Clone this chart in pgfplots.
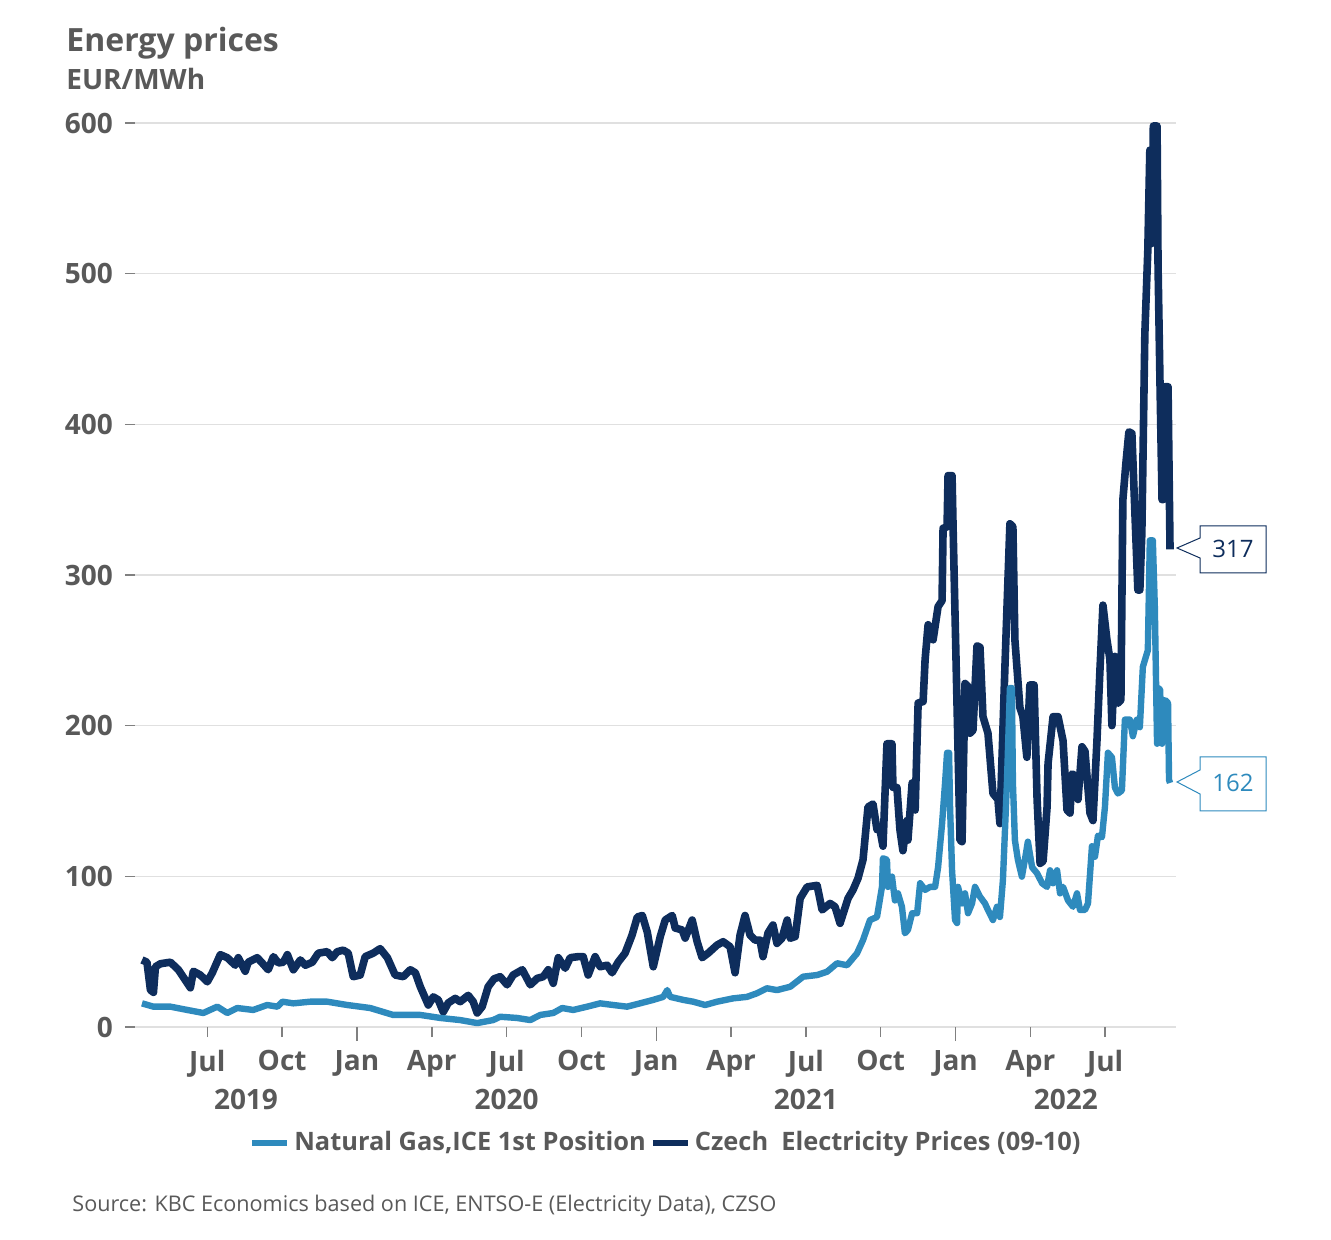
\documentclass[border=0pt]{standalone}
\usepackage{fontspec}
\setmainfont{Open Sans}
\usepackage{pgfplots}
\pgfplotsset{compat=1.18}
\definecolor{elec}{RGB}{14,45,92}
\definecolor{gas}{RGB}{46,138,189}
\definecolor{txtgray}{RGB}{89,89,89}
\definecolor{gridgray}{RGB}{224,224,224}
\definecolor{tickgray}{RGB}{128,128,128}
\begin{document}
\begin{tikzpicture}
\path[use as bounding box] (-67.5pt,-106.5pt) rectangle (598pt,513.5pt);
\begin{axis}[
  at={(0,0)}, anchor=south west,
  scale only axis, width=520.5pt, height=452pt,
  xmin=3.1, xmax=44.84, ymin=0, ymax=600,
  clip=false,
  axis lines=left, axis line style={draw=none},
  tick align=outside,
  ytick={0,100,200,300,400,500,600},
  ymajorgrids, grid style={color=gridgray, line width=0.8pt},
  xtick={6,9,12,15,18,21,24,27,30,33,36,39,42},
  xticklabels={Jul,Oct,Jan,Apr,Jul,Oct,Jan,Apr,Jul,Oct,Jan,Apr,Jul},
  minor xtick={12,24,36},
  major tick length=5pt, minor tick length=7pt,
  tick style={color=tickgray, line width=0.75pt},
  extra x ticks={7.55,18,30,40.42},
  extra x tick labels={2019,2020,2021,2022},
  extra x tick style={major tick length=0pt, xticklabel style={yshift=-24.5pt}},
  tick label style={font=\bfseries\fontsize{14}{16}\selectfont, text=txtgray},
  xticklabel style={yshift=-3pt},
  yticklabel style={xshift=-2.5pt},
  /pgf/number format/assume math mode=true,
  legend style={at={(0.511,-0.128)}, anchor=center, draw=none, fill=none,
    legend columns=2, font=\bfseries\fontsize{12.7}{15}\selectfont, text=txtgray,
    /tikz/every even column/.append style={column sep=0pt}},
  legend image code/.code={\draw[#1, line width=3pt] (0pt,0pt) -- (17.5pt,0pt);},
  reverse legend,
]
\addplot[color=elec, line width=3.8pt, line join=round] coordinates {
(3.38,44.5)(3.58,43)(3.72,24.5)(3.84,23)(3.92,40)(4.12,42)(4.52,43)(4.84,38)(5.12,31)(5.32,26)
(5.44,37)(5.72,34.5)(6.00,30)(6.20,36)(6.52,48)(6.80,46)(7.12,41)(7.24,46)(7.52,37)(7.64,43)
(8.00,46)(8.20,42.5)(8.44,38)(8.65,46.7)(8.85,42.5)(9.05,43)(9.21,48)(9.45,38)(9.73,44.5)(9.93,41)
(10.21,43)(10.45,49)(10.81,50)(11.01,46)(11.21,50)(11.45,51)(11.65,49)(11.85,33.4)(12.13,34.5)(12.33,46.7)
(12.65,49)(12.93,52)(13.22,46)(13.53,34.5)(13.86,33.4)(14.14,38)(14.34,36)(14.54,26.7)(14.86,14.6)(15.06,20)
(15.26,18)(15.46,10)(15.66,16)(15.94,19)(16.14,16.8)(16.46,21)(16.66,16.8)(16.82,9.3)(17.02,13.5)(17.26,26.7)
(17.50,32)(17.74,33.4)(18.02,28)(18.26,34.5)(18.63,38)(18.95,28)(19.23,32.3)(19.47,33.4)(19.67,38)(19.87,29)
(20.07,46)(20.35,39)(20.55,46)(20.87,46.7)(21.07,46.7)(21.27,34.5)(21.55,46.7)(21.75,40)(22.03,41)(22.23,36)
(22.47,43)(22.75,49)(23.03,61)(23.24,73)(23.44,74)(23.64,63)(23.88,40)(24.16,60)(24.36,71)(24.64,74)
(24.76,65.7)(25.04,64.4)(25.16,59)(25.44,71)(25.64,56.6)(25.84,46)(26.08,49)(26.44,54.4)(26.68,56.6)(26.96,53.3)
(27.16,36)(27.36,61)(27.56,74)(27.76,61)(27.96,57.7)(28.16,57.7)(28.28,46.7)(28.48,62.4)(28.68,67.7)(28.84,55.5)
(29.04,58.9)(29.25,71)(29.37,58.9)(29.57,60)(29.77,85.4)(30.05,93)(30.45,94)(30.65,77.7)(30.97,82)(31.17,79.8)
(31.37,68.8)(31.69,85.4)(31.89,91)(32.09,98.7)(32.29,111)(32.49,146)(32.69,148)(32.85,131)(32.97,131)(33.09,120)
(33.25,188)(33.45,188)(33.49,159)(33.65,159)(33.77,131)(33.89,117)(34.05,137)(34.09,124)(34.26,162)(34.38,144)
(34.50,215)(34.70,216)(34.78,244)(34.90,267)(35.10,257)(35.30,279)(35.46,283)(35.50,331)(35.66,332)(35.70,366)
(35.86,366)(35.90,333)(36.18,124)(36.26,123)(36.38,228)(36.50,226)(36.58,195)(36.70,197)(36.86,253)(36.98,252)
(37.10,206)(37.30,195)(37.50,155)(37.70,151)(37.78,135)(37.98,239)(38.18,334)(38.30,332)(38.38,257)(38.58,212)
(38.70,206)(38.86,179)(38.98,227)(39.15,227)(39.27,151)(39.39,108.6)(39.51,110)(39.67,146)(39.71,175)(39.91,206)
(40.11,206)(40.31,190)(40.47,144)(40.59,142)(40.67,168)(40.87,166)(40.91,151)(41.07,186)(41.19,183)(41.39,142)
(41.51,137)(41.67,190)(41.79,237)(41.91,280)(42.07,257)(42.19,244)(42.27,200)(42.39,246)(42.51,215)(42.63,217)
(42.71,350)(42.83,374)(42.95,395)(43.07,394)(43.31,290)(43.39,290)(43.47,328)(43.59,460)(43.71,516)(43.79,582)
(43.87,520)(43.93,598)(44.08,598)(44.12,505)(44.20,425)(44.28,350)(44.32,350)(44.40,425)(44.52,425)(44.60,317)
};
\addlegendentry{Czech\ \ Electricity Prices (09-10)}
\addplot[color=gas, line width=3.2pt, line join=round] coordinates {
(3.38,15.7)(3.84,13.5)(4.52,13.5)(5.20,11.3)(5.84,9.3)(6.40,13.5)(6.80,9.3)(7.20,12.6)(7.84,11.3)(8.40,14.6)
(8.81,13.5)(9.01,16.8)(9.45,15.7)(10.13,16.8)(10.81,16.8)(11.61,14.6)(12.53,12.6)(13.45,8)(14.54,8)(15.34,6)
(16.14,4.6)(16.82,2.6)(17.46,4.6)(17.74,6.8)(18.42,6)(18.95,4.6)(19.35,8)(19.87,9.3)(20.23,12.6)(20.67,11.3)
(21.23,13.5)(21.75,15.7)(22.27,14.6)(22.83,13.5)(23.35,15.7)(23.88,18)(24.28,20)(24.44,24.5)(24.56,20)(25.08,18)
(25.48,16.8)(25.96,14.6)(26.44,16.8)(27.08,19)(27.64,20)(28.04,22.4)(28.44,25.7)(28.84,24.5)(29.37,26.7)(29.89,33.4)
(30.45,34.5)(30.85,36.7)(31.25,42.3)(31.65,41)(32.05,48.9)(32.29,57.7)(32.57,71)(32.85,73)(33.05,93)(33.09,112)
(33.25,111)(33.29,93)(33.45,99.8)(33.57,84)(33.69,88.7)(33.85,79.8)(33.97,62.2)(34.09,64.4)(34.26,75.5)(34.46,75.5)
(34.58,95.4)(34.78,91)(34.98,93)(35.18,93)(35.30,106)(35.46,135)(35.58,162)(35.66,182)(35.74,182)(35.78,146)
(35.86,104)(35.98,71)(36.06,69)(36.10,93)(36.26,82)(36.38,88.7)(36.50,75.5)(36.66,82)(36.78,93)(36.98,86.5)
(37.18,82)(37.30,77.7)(37.50,71)(37.66,79.8)(37.78,73)(37.90,97.6)(38.06,162)(38.18,225)(38.26,225)(38.30,162)
(38.38,124)(38.50,111)(38.66,99.8)(38.78,111)(38.90,123)(39.07,106)(39.27,102)(39.47,95.4)(39.67,93)(39.79,104)
(39.91,95.4)(40.07,104)(40.19,88.7)(40.31,93)(40.51,84)(40.71,79.8)(40.87,88.7)(40.99,77.7)(41.19,77.7)(41.31,82)
(41.47,120)(41.59,113)(41.71,127)(41.87,126)(41.99,146)(42.11,182)(42.27,179)(42.39,159)(42.51,155)(42.67,157)
(42.79,204)(42.99,204)(43.11,193)(43.27,204)(43.39,199)(43.51,239)(43.71,250)(43.79,323)(43.91,323)(43.99,279)
(44.08,188)(44.12,225)(44.20,224)(44.28,188)(44.40,217)(44.52,215)(44.56,164)(44.60,162)
};
\addlegendentry{Natural Gas,ICE 1st Position}
\end{axis}
% title and source
\node[anchor=base west, inner sep=0pt, text=txtgray, font=\bfseries\fontsize{16}{19}\selectfont] at (-34.5pt,487.5pt) {Energy prices};
\node[anchor=base west, inner sep=0pt, text=txtgray, font=\bfseries\fontsize{14}{17}\selectfont] at (-34.5pt,468.5pt) {EUR/MWh};
\node[anchor=base west, inner sep=0pt, text=txtgray, font=\fontsize{10.8}{13}\selectfont] at (-31.5pt,-92.3pt) {Source: KBC Economics based on ICE, ENTSO-E (Electricity Data), CZSO};
% value callouts
\draw[elec, line width=0.5pt, fill=white] (532.5pt,250.5pt) -- (565.5pt,250.5pt) -- (565.5pt,227pt) -- (532.5pt,227pt) -- (532.5pt,234.5pt) -- (521pt,239.5pt) -- (532.5pt,244.5pt) -- cycle;
\node[text=elec, font=\fontsize{12}{14}\selectfont] at (549pt,239pt) {317};
\draw[gas, line width=0.5pt, fill=white] (532.5pt,135pt) -- (565.5pt,135pt) -- (565.5pt,108pt) -- (532.5pt,108pt) -- (532.5pt,116.5pt) -- (521pt,122.5pt) -- (532.5pt,128.5pt) -- cycle;
\node[text=gas, font=\fontsize{12}{14}\selectfont] at (549pt,122pt) {162};
\end{tikzpicture}
\end{document}
